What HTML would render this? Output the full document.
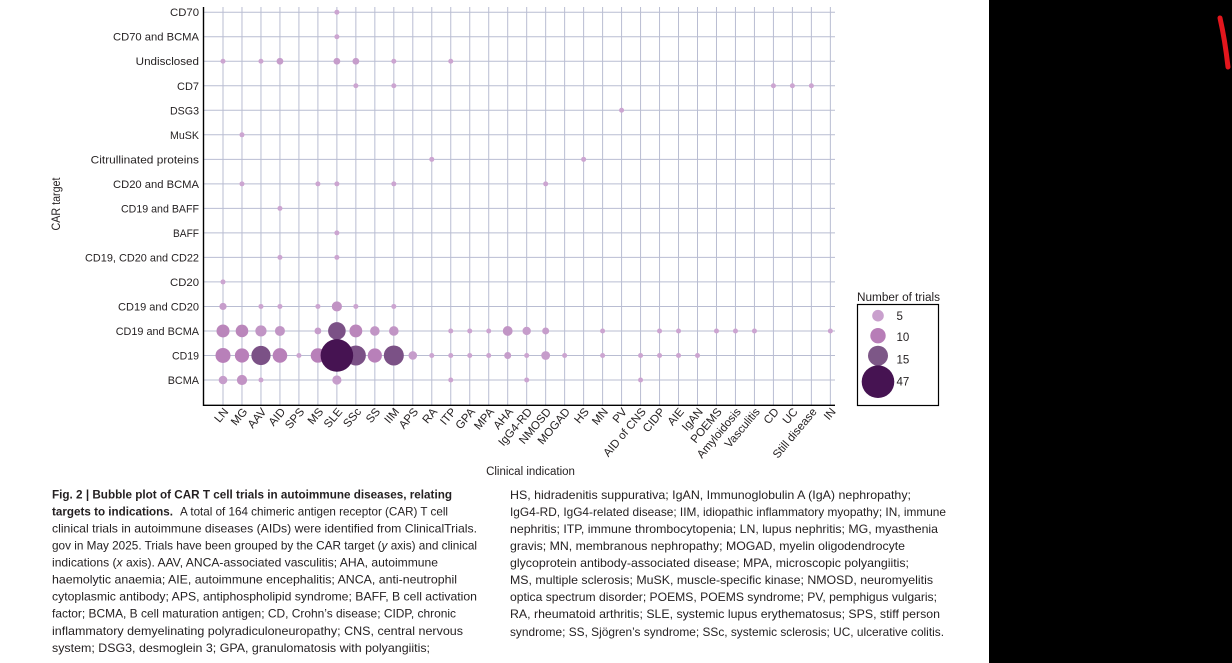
<!DOCTYPE html>
<html>
<head>
<meta charset="utf-8">
<style>
  html, body { margin:0; padding:0; background:#fff; }
  svg { display:block; }
  .yl { font-family:"Liberation Sans", sans-serif; font-size:11px; fill:#231f20; }
  .xl { font-family:"Liberation Sans", sans-serif; font-size:11.5px; fill:#231f20; }
  .cap { font-family:"Liberation Sans", sans-serif; font-size:12px; fill:#231f20; }
  .capb { font-family:"Liberation Sans", sans-serif; font-size:12px; fill:#231f20; font-weight:bold; }
</style>
</head>
<body>
<svg width="1232" height="663" viewBox="0 0 1232 663" xmlns="http://www.w3.org/2000/svg">
  <rect x="0" y="0" width="1232" height="663" fill="#ffffff"/>

  <!-- vertical gridlines -->
  <g stroke="#b9bdd2" stroke-width="1">
    <line x1="223" y1="7" x2="223" y2="405"/>
    <line x1="241.98" y1="7" x2="241.98" y2="405"/>
    <line x1="260.96" y1="7" x2="260.96" y2="405"/>
    <line x1="279.94" y1="7" x2="279.94" y2="405"/>
    <line x1="298.92" y1="7" x2="298.92" y2="405"/>
    <line x1="317.9" y1="7" x2="317.9" y2="405"/>
    <line x1="336.88" y1="7" x2="336.88" y2="405"/>
    <line x1="355.86" y1="7" x2="355.86" y2="405"/>
    <line x1="374.84" y1="7" x2="374.84" y2="405"/>
    <line x1="393.82" y1="7" x2="393.82" y2="405"/>
    <line x1="412.8" y1="7" x2="412.8" y2="405"/>
    <line x1="431.78" y1="7" x2="431.78" y2="405"/>
    <line x1="450.76" y1="7" x2="450.76" y2="405"/>
    <line x1="469.74" y1="7" x2="469.74" y2="405"/>
    <line x1="488.72" y1="7" x2="488.72" y2="405"/>
    <line x1="507.7" y1="7" x2="507.7" y2="405"/>
    <line x1="526.68" y1="7" x2="526.68" y2="405"/>
    <line x1="545.66" y1="7" x2="545.66" y2="405"/>
    <line x1="564.64" y1="7" x2="564.64" y2="405"/>
    <line x1="583.62" y1="7" x2="583.62" y2="405"/>
    <line x1="602.6" y1="7" x2="602.6" y2="405"/>
    <line x1="621.58" y1="7" x2="621.58" y2="405"/>
    <line x1="640.56" y1="7" x2="640.56" y2="405"/>
    <line x1="659.54" y1="7" x2="659.54" y2="405"/>
    <line x1="678.52" y1="7" x2="678.52" y2="405"/>
    <line x1="697.5" y1="7" x2="697.5" y2="405"/>
    <line x1="716.48" y1="7" x2="716.48" y2="405"/>
    <line x1="735.46" y1="7" x2="735.46" y2="405"/>
    <line x1="754.44" y1="7" x2="754.44" y2="405"/>
    <line x1="773.42" y1="7" x2="773.42" y2="405"/>
    <line x1="792.4" y1="7" x2="792.4" y2="405"/>
    <line x1="811.38" y1="7" x2="811.38" y2="405"/>
    <line x1="830.36" y1="7" x2="830.36" y2="405"/>
  </g>
  <!-- horizontal gridlines -->
  <g stroke="#b9bdd2" stroke-width="1">
    <line x1="203" y1="12.2" x2="835" y2="12.2"/>
    <line x1="203" y1="36.72" x2="835" y2="36.72"/>
    <line x1="203" y1="61.24" x2="835" y2="61.24"/>
    <line x1="203" y1="85.76" x2="835" y2="85.76"/>
    <line x1="203" y1="110.28" x2="835" y2="110.28"/>
    <line x1="203" y1="134.8" x2="835" y2="134.8"/>
    <line x1="203" y1="159.32" x2="835" y2="159.32"/>
    <line x1="203" y1="183.84" x2="835" y2="183.84"/>
    <line x1="203" y1="208.36" x2="835" y2="208.36"/>
    <line x1="203" y1="232.88" x2="835" y2="232.88"/>
    <line x1="203" y1="257.4" x2="835" y2="257.4"/>
    <line x1="203" y1="281.92" x2="835" y2="281.92"/>
    <line x1="203" y1="306.44" x2="835" y2="306.44"/>
    <line x1="203" y1="330.96" x2="835" y2="330.96"/>
    <line x1="203" y1="355.48" x2="835" y2="355.48"/>
    <line x1="203" y1="380" x2="835" y2="380"/>
  </g>

  <!-- bubbles -->
  <g>
    <!-- Row 0 CD70 -->
    <circle cx="336.88" cy="12.2" r="2.5" fill="#cca5d1"/>
    <!-- Row 1 CD70 and BCMA -->
    <circle cx="336.88" cy="36.72" r="2.5" fill="#cca5d1"/>
    <!-- Row 2 Undisclosed -->
    <circle cx="223" cy="61.24" r="2.5" fill="#cca5d1"/>
    <circle cx="260.96" cy="61.24" r="2.5" fill="#cca5d1"/>
    <circle cx="279.94" cy="61.24" r="3.4" fill="#c69dcb"/>
    <circle cx="336.88" cy="61.24" r="3.4" fill="#c69dcb"/>
    <circle cx="355.86" cy="61.24" r="3.4" fill="#c69dcb"/>
    <circle cx="393.82" cy="61.24" r="2.5" fill="#cca5d1"/>
    <circle cx="450.76" cy="61.24" r="2.5" fill="#cca5d1"/>
    <!-- Row 3 CD7 -->
    <circle cx="355.86" cy="85.76" r="2.5" fill="#cca5d1"/>
    <circle cx="393.82" cy="85.76" r="2.5" fill="#cca5d1"/>
    <circle cx="773.42" cy="85.76" r="2.5" fill="#cca5d1"/>
    <circle cx="792.4" cy="85.76" r="2.5" fill="#cca5d1"/>
    <circle cx="811.38" cy="85.76" r="2.5" fill="#cca5d1"/>
    <!-- Row 4 DSG3 -->
    <circle cx="621.58" cy="110.28" r="2.5" fill="#cca5d1"/>
    <!-- Row 5 MuSK -->
    <circle cx="241.98" cy="134.8" r="2.5" fill="#cca5d1"/>
    <!-- Row 6 Citrullinated proteins -->
    <circle cx="431.78" cy="159.32" r="2.5" fill="#cca5d1"/>
    <circle cx="583.62" cy="159.32" r="2.5" fill="#cca5d1"/>
    <!-- Row 7 CD20 and BCMA -->
    <circle cx="241.98" cy="183.84" r="2.5" fill="#cca5d1"/>
    <circle cx="317.9" cy="183.84" r="2.5" fill="#cca5d1"/>
    <circle cx="336.88" cy="183.84" r="2.5" fill="#cca5d1"/>
    <circle cx="393.82" cy="183.84" r="2.5" fill="#cca5d1"/>
    <circle cx="545.66" cy="183.84" r="2.5" fill="#cca5d1"/>
    <!-- Row 8 CD19 and BAFF -->
    <circle cx="279.94" cy="208.36" r="2.5" fill="#cca5d1"/>
    <!-- Row 9 BAFF -->
    <circle cx="336.88" cy="232.88" r="2.5" fill="#cca5d1"/>
    <!-- Row 10 CD19, CD20 and CD22 -->
    <circle cx="279.94" cy="257.4" r="2.5" fill="#cca5d1"/>
    <circle cx="336.88" cy="257.4" r="2.5" fill="#cca5d1"/>
    <!-- Row 11 CD20 -->
    <circle cx="223" cy="281.92" r="2.5" fill="#cca5d1"/>
    <!-- Row 12 CD19 and CD20 -->
    <circle cx="223" cy="306.44" r="3.6" fill="#c69dcb"/>
    <circle cx="260.96" cy="306.44" r="2.5" fill="#cca5d1"/>
    <circle cx="279.94" cy="306.44" r="2.5" fill="#cca5d1"/>
    <circle cx="317.9" cy="306.44" r="2.5" fill="#cca5d1"/>
    <circle cx="336.88" cy="306.44" r="5.1" fill="#c193c4"/>
    <circle cx="355.86" cy="306.44" r="2.5" fill="#cca5d1"/>
    <circle cx="393.82" cy="306.44" r="2.5" fill="#cca5d1"/>
    <!-- Row 13 CD19 and BCMA -->
    <circle cx="223" cy="330.96" r="6.5" fill="#ba86bb"/>
    <circle cx="241.98" cy="330.96" r="6.3" fill="#ba86bb"/>
    <circle cx="260.96" cy="330.96" r="5.6" fill="#c195c5"/>
    <circle cx="279.94" cy="330.96" r="5" fill="#c195c5"/>
    <circle cx="317.9" cy="330.96" r="3.4" fill="#c69dcb"/>
    <circle cx="336.88" cy="330.96" r="8.8" fill="#7b5186"/>
    <circle cx="355.86" cy="330.96" r="6.4" fill="#ba86bb"/>
    <circle cx="374.84" cy="330.96" r="4.8" fill="#c195c5"/>
    <circle cx="393.82" cy="330.96" r="4.8" fill="#c195c5"/>
    <circle cx="450.76" cy="330.96" r="2.5" fill="#cca5d1"/>
    <circle cx="469.74" cy="330.96" r="2.5" fill="#cca5d1"/>
    <circle cx="488.72" cy="330.96" r="2.5" fill="#cca5d1"/>
    <circle cx="507.7" cy="330.96" r="4.9" fill="#c195c5"/>
    <circle cx="526.68" cy="330.96" r="4.2" fill="#c69dcb"/>
    <circle cx="545.66" cy="330.96" r="3.5" fill="#c69dcb"/>
    <circle cx="602.6" cy="330.96" r="2.5" fill="#cca5d1"/>
    <circle cx="659.54" cy="330.96" r="2.5" fill="#cca5d1"/>
    <circle cx="678.52" cy="330.96" r="2.5" fill="#cca5d1"/>
    <circle cx="716.48" cy="330.96" r="2.5" fill="#cca5d1"/>
    <circle cx="735.46" cy="330.96" r="2.5" fill="#cca5d1"/>
    <circle cx="754.44" cy="330.96" r="2.5" fill="#cca5d1"/>
    <circle cx="830.36" cy="330.96" r="2.5" fill="#cca5d1"/>
    <!-- Row 14 CD19 -->
    <circle cx="223" cy="355.48" r="7.5" fill="#b880b9"/>
    <circle cx="241.98" cy="355.48" r="7.1" fill="#b880b9"/>
    <circle cx="260.96" cy="355.48" r="9.6" fill="#7b5186"/>
    <circle cx="279.94" cy="355.48" r="7.3" fill="#b880b9"/>
    <circle cx="298.92" cy="355.48" r="2.5" fill="#cca5d1"/>
    <circle cx="317.9" cy="355.48" r="7.2" fill="#b880b9"/>
    <circle cx="355.86" cy="355.48" r="10" fill="#7b5186"/>
    <circle cx="374.84" cy="355.48" r="7.1" fill="#b880b9"/>
    <circle cx="393.82" cy="355.48" r="10" fill="#7b5186"/>
    <circle cx="412.8" cy="355.48" r="4.3" fill="#c69dcb"/>
    <circle cx="431.78" cy="355.48" r="2.5" fill="#cca5d1"/>
    <circle cx="450.76" cy="355.48" r="2.5" fill="#cca5d1"/>
    <circle cx="469.74" cy="355.48" r="2.5" fill="#cca5d1"/>
    <circle cx="488.72" cy="355.48" r="2.5" fill="#cca5d1"/>
    <circle cx="507.7" cy="355.48" r="3.5" fill="#c69dcb"/>
    <circle cx="526.68" cy="355.48" r="2.5" fill="#cca5d1"/>
    <circle cx="545.66" cy="355.48" r="4.4" fill="#c69dcb"/>
    <circle cx="564.64" cy="355.48" r="2.5" fill="#cca5d1"/>
    <circle cx="602.6" cy="355.48" r="2.5" fill="#cca5d1"/>
    <circle cx="640.56" cy="355.48" r="2.5" fill="#cca5d1"/>
    <circle cx="659.54" cy="355.48" r="2.5" fill="#cca5d1"/>
    <circle cx="678.52" cy="355.48" r="2.5" fill="#cca5d1"/>
    <circle cx="697.5" cy="355.48" r="2.5" fill="#cca5d1"/>
    <circle cx="336.88" cy="355.48" r="16.3" fill="#461352"/>
    <!-- Row 15 BCMA -->
    <circle cx="223" cy="380" r="4.3" fill="#c69dcb"/>
    <circle cx="241.98" cy="380" r="5.1" fill="#c193c4"/>
    <circle cx="260.96" cy="380" r="2.5" fill="#cca5d1"/>
    <circle cx="336.88" cy="380" r="4.6" fill="#c69dcb"/>
    <circle cx="450.76" cy="380" r="2.5" fill="#cca5d1"/>
    <circle cx="526.68" cy="380" r="2.5" fill="#cca5d1"/>
    <circle cx="640.56" cy="380" r="2.5" fill="#cca5d1"/>
  </g>

  <!-- axes spines -->
  <line x1="203.5" y1="7" x2="203.5" y2="406" stroke="#000" stroke-width="1.4"/>
  <line x1="203" y1="405.3" x2="835" y2="405.3" stroke="#000" stroke-width="1.4"/>

  <!-- y tick labels -->
  <g class="yl">
    <text x="170" y="16.2" textLength="29" lengthAdjust="spacingAndGlyphs">CD70</text>
    <text x="113" y="40.7" textLength="86" lengthAdjust="spacingAndGlyphs">CD70 and BCMA</text>
    <text x="135.7" y="65.2" textLength="63.3" lengthAdjust="spacingAndGlyphs">Undisclosed</text>
    <text x="177" y="89.8" textLength="22" lengthAdjust="spacingAndGlyphs">CD7</text>
    <text x="170" y="114.3" textLength="29" lengthAdjust="spacingAndGlyphs">DSG3</text>
    <text x="170" y="138.8" textLength="29" lengthAdjust="spacingAndGlyphs">MuSK</text>
    <text x="90.7" y="163.3" textLength="108.3" lengthAdjust="spacingAndGlyphs">Citrullinated proteins</text>
    <text x="113" y="187.8" textLength="86" lengthAdjust="spacingAndGlyphs">CD20 and BCMA</text>
    <text x="121" y="212.4" textLength="78" lengthAdjust="spacingAndGlyphs">CD19 and BAFF</text>
    <text x="173" y="236.9" textLength="26" lengthAdjust="spacingAndGlyphs">BAFF</text>
    <text x="85" y="261.4" textLength="114" lengthAdjust="spacingAndGlyphs">CD19, CD20 and CD22</text>
    <text x="170" y="285.9" textLength="29" lengthAdjust="spacingAndGlyphs">CD20</text>
    <text x="118" y="310.4" textLength="81" lengthAdjust="spacingAndGlyphs">CD19 and CD20</text>
    <text x="115.7" y="335" textLength="83.3" lengthAdjust="spacingAndGlyphs">CD19 and BCMA</text>
    <text x="172" y="359.5" textLength="27" lengthAdjust="spacingAndGlyphs">CD19</text>
    <text x="167.7" y="384" textLength="31.3" lengthAdjust="spacingAndGlyphs">BCMA</text>
  </g>

  <!-- y axis title -->
  <text class="xl" x="60" y="204" text-anchor="middle" transform="rotate(-90 60 204)" textLength="53" lengthAdjust="spacingAndGlyphs">CAR target</text>

  <!-- x tick labels -->
  <g class="xl" text-anchor="end">
    <text x="229" y="412" transform="rotate(-50 229 412)">LN</text>
    <text x="247.98" y="412" transform="rotate(-50 247.98 412)">MG</text>
    <text x="266.96" y="412" transform="rotate(-50 266.96 412)">AAV</text>
    <text x="285.94" y="412" transform="rotate(-50 285.94 412)">AID</text>
    <text x="304.92" y="412" transform="rotate(-50 304.92 412)">SPS</text>
    <text x="323.9" y="412" transform="rotate(-50 323.9 412)">MS</text>
    <text x="342.88" y="412" transform="rotate(-50 342.88 412)">SLE</text>
    <text x="361.86" y="412" transform="rotate(-50 361.86 412)">SSc</text>
    <text x="380.84" y="412" transform="rotate(-50 380.84 412)">SS</text>
    <text x="399.82" y="412" transform="rotate(-50 399.82 412)">IIM</text>
    <text x="418.8" y="412" transform="rotate(-50 418.8 412)">APS</text>
    <text x="437.78" y="412" transform="rotate(-50 437.78 412)">RA</text>
    <text x="456.76" y="412" transform="rotate(-50 456.76 412)">ITP</text>
    <text x="475.74" y="412" transform="rotate(-50 475.74 412)">GPA</text>
    <text x="494.72" y="412" transform="rotate(-50 494.72 412)">MPA</text>
    <text x="513.7" y="412" transform="rotate(-50 513.7 412)">AHA</text>
    <text x="532.68" y="412" transform="rotate(-50 532.68 412)">IgG4-RD</text>
    <text x="551.66" y="412" transform="rotate(-50 551.66 412)">NMOSD</text>
    <text x="570.64" y="412" transform="rotate(-50 570.64 412)">MOGAD</text>
    <text x="589.62" y="412" transform="rotate(-50 589.62 412)">HS</text>
    <text x="608.6" y="412" transform="rotate(-50 608.6 412)">MN</text>
    <text x="627.58" y="412" transform="rotate(-50 627.58 412)">PV</text>
    <text x="646.56" y="412" transform="rotate(-50 646.56 412)">AID of CNS</text>
    <text x="665.54" y="412" transform="rotate(-50 665.54 412)">CIDP</text>
    <text x="684.52" y="412" transform="rotate(-50 684.52 412)">AIE</text>
    <text x="703.5" y="412" transform="rotate(-50 703.5 412)">IgAN</text>
    <text x="722.48" y="412" transform="rotate(-50 722.48 412)">POEMS</text>
    <text x="741.46" y="412" transform="rotate(-50 741.46 412)">Amyloidosis</text>
    <text x="760.44" y="412" transform="rotate(-50 760.44 412)">Vasculitis</text>
    <text x="779.42" y="412" transform="rotate(-50 779.42 412)">CD</text>
    <text x="798.4" y="412" transform="rotate(-50 798.4 412)">UC</text>
    <text x="817.38" y="412" transform="rotate(-50 817.38 412)">Still disease</text>
    <text x="836.36" y="412" transform="rotate(-50 836.36 412)">IN</text>
  </g>

  <!-- x axis title -->
  <text class="xl" x="530.5" y="475" text-anchor="middle">Clinical indication</text>

  <!-- legend -->
  <text class="xl" x="857" y="301" textLength="83" lengthAdjust="spacingAndGlyphs">Number of trials</text>
  <rect x="857.5" y="304.5" width="81" height="101" fill="none" stroke="#000" stroke-width="1.2"/>
  <circle cx="878" cy="315.7" r="5.8" fill="#c9a0cd"/>
  <circle cx="878" cy="335.7" r="7.7" fill="#b77db7"/>
  <circle cx="878" cy="355.7" r="10" fill="#7d5787"/>
  <circle cx="878" cy="381.7" r="16.3" fill="#461352"/>
  <g class="xl">
    <text x="896.5" y="319.8">5</text>
    <text x="896.5" y="341">10</text>
    <text x="896.5" y="363.5">15</text>
    <text x="896.5" y="385.5">47</text>
  </g>

  <!-- caption left column -->
  <g>
    <text class="capb" x="52" y="498.5" textLength="400" lengthAdjust="spacingAndGlyphs">Fig. 2 | Bubble plot of CAR T cell trials in autoimmune diseases, relating</text>
    <text class="capb" x="52" y="515.5" textLength="121" lengthAdjust="spacingAndGlyphs">targets to indications.</text>
    <text class="cap" x="180" y="515.5" textLength="268" lengthAdjust="spacingAndGlyphs">A total of 164 chimeric antigen receptor (CAR) T cell</text>
    <text class="cap" x="52" y="532.5" textLength="425" lengthAdjust="spacingAndGlyphs">clinical trials in autoimmune diseases (AIDs) were identified from ClinicalTrials.</text>
    <text class="cap" x="52" y="549.5" textLength="425" lengthAdjust="spacingAndGlyphs">gov in May 2025. Trials have been grouped by the CAR target (<tspan font-style="italic">y</tspan> axis) and clinical</text>
    <text class="cap" x="52" y="566.5" textLength="386" lengthAdjust="spacingAndGlyphs">indications (<tspan font-style="italic">x</tspan> axis). AAV, ANCA-associated vasculitis; AHA, autoimmune</text>
    <text class="cap" x="52" y="583.5" textLength="405" lengthAdjust="spacingAndGlyphs">haemolytic anaemia; AIE, autoimmune encephalitis; ANCA, anti-neutrophil</text>
    <text class="cap" x="52" y="600.5" textLength="425" lengthAdjust="spacingAndGlyphs">cytoplasmic antibody; APS, antiphospholipid syndrome; BAFF, B cell activation</text>
    <text class="cap" x="52" y="617.5" textLength="404" lengthAdjust="spacingAndGlyphs">factor; BCMA, B cell maturation antigen; CD, Crohn’s disease; CIDP, chronic</text>
    <text class="cap" x="52" y="635" textLength="411" lengthAdjust="spacingAndGlyphs">inflammatory demyelinating polyradiculoneuropathy; CNS, central nervous</text>
    <text class="cap" x="52" y="652" textLength="378" lengthAdjust="spacingAndGlyphs">system; DSG3, desmoglein 3; GPA, granulomatosis with polyangiitis;</text>
  </g>

  <!-- caption right column -->
  <g>
    <text class="cap" x="510" y="499" textLength="401" lengthAdjust="spacingAndGlyphs">HS, hidradenitis suppurativa; IgAN, Immunoglobulin A (IgA) nephropathy;</text>
    <text class="cap" x="510" y="516" textLength="436" lengthAdjust="spacingAndGlyphs">IgG4-RD, IgG4-related disease; IIM, idiopathic inflammatory myopathy; IN, immune</text>
    <text class="cap" x="510" y="533" textLength="428" lengthAdjust="spacingAndGlyphs">nephritis; ITP, immune thrombocytopenia; LN, lupus nephritis; MG, myasthenia</text>
    <text class="cap" x="510" y="550" textLength="395" lengthAdjust="spacingAndGlyphs">gravis; MN, membranous nephropathy; MOGAD, myelin oligodendrocyte</text>
    <text class="cap" x="510" y="567" textLength="399" lengthAdjust="spacingAndGlyphs">glycoprotein antibody-associated disease; MPA, microscopic polyangiitis;</text>
    <text class="cap" x="510" y="584" textLength="423" lengthAdjust="spacingAndGlyphs">MS, multiple sclerosis; MuSK, muscle-specific kinase; NMOSD, neuromyelitis</text>
    <text class="cap" x="510" y="601" textLength="427" lengthAdjust="spacingAndGlyphs">optica spectrum disorder; POEMS, POEMS syndrome; PV, pemphigus vulgaris;</text>
    <text class="cap" x="510" y="618" textLength="430" lengthAdjust="spacingAndGlyphs">RA, rheumatoid arthritis; SLE, systemic lupus erythematosus; SPS, stiff person</text>
    <text class="cap" x="510" y="636" textLength="434" lengthAdjust="spacingAndGlyphs">syndrome; SS, Sjögren’s syndrome; SSc, systemic sclerosis; UC, ulcerative colitis.</text>
  </g>

  <!-- black panel on right -->
  <rect x="989" y="0" width="243" height="663" fill="#000"/>
  <path d="M1220 18 Q1225 40 1228 67" stroke="#e3161d" stroke-width="5" stroke-linecap="round" fill="none"/>
</svg>
</body>
</html>
